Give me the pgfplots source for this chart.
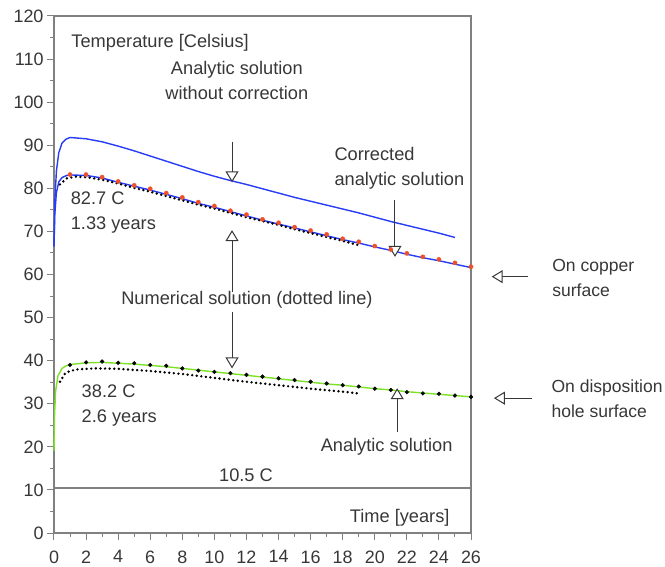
\documentclass[border=0pt]{standalone}
\usepackage{pgfplots}
\pgfplotsset{compat=1.18}
\usepackage{fontspec}
\setmainfont{Liberation Sans}
\usetikzlibrary{arrows.meta}

\definecolor{frame}{RGB}{128,128,128}
\definecolor{txt}{RGB}{55,55,55}
\definecolor{cblue}{RGB}{40,60,245}
\definecolor{cgreen}{RGB}{125,225,40}
\definecolor{cred}{RGB}{240,80,40}

\begin{document}
\begin{tikzpicture}[font=\fontsize{18.3}{25}\selectfont,
  pointer/.style={draw=txt, line width=1bp, -{Triangle[length=11bp,width=13bp,fill=white]}}]
\path[use as bounding box] (-54bp,-34bp) rectangle (611bp,533bp);
\begin{axis}[
  at={(0,0)}, anchor=south west,
  width=417bp, height=517bp,
  scale only axis,
  clip=false,
  xmin=0, xmax=26,
  ymin=0, ymax=120,
  xtick={0,2,...,26},
  ytick={0,10,...,120},
  minor x tick num=1,
  minor y tick num=1,
  xtick pos=bottom, ytick pos=left,
  tick align=outside,
  major tick length=7bp,
  minor tick length=3.5bp,
  axis line style={frame, line width=1.5bp},
  tick style={frame, line width=1bp},
  ticklabel style={text=txt, font=\fontsize{18}{22}\selectfont},
  xticklabel style={yshift=-7bp},
  /pgf/number format/assume math mode=true,
  /pgf/number format/1000 sep={},
]

% ambient temperature line
\addplot[frame, line width=1.5bp] coordinates {(0,10.5) (26,10.5)};

% analytic solution without correction (copper surface)
\addplot[cblue, line width=1.4bp] coordinates {
  (0,66.5) (0.05,77) (0.15,84) (0.3,88.3) (0.5,90.5) (0.75,91.4) (1,91.8)
  (2,91.5) (3,90.8) (4,89.8) (5,88.7) (6,87.5) (7,86.3) (8,85.1) (9,83.9)
  (10,82.8) (11,81.8) (12,80.9) (13,79.9) (14,78.9) (15,77.9) (16,77.0)
  (17,76.1) (18,75.2) (19,74.3) (20,73.3) (21,72.3) (22,71.4) (23,70.5)
  (24,69.6) (25,68.6)
};

% corrected analytic solution (copper surface)
\addplot[cblue, line width=1.4bp] coordinates {
  (0,66.5) (0.05,74) (0.15,79) (0.3,81.5) (0.5,82.5) (0.8,83.0) (1,83.1)
  (2,83.0) (3,82.4) (4,81.4) (5,80.5) (6,79.6) (7,78.6) (8,77.6) (9,76.5)
  (10,75.6) (11,74.6) (12,73.6) (13,72.6) (14,71.7) (15,70.8) (16,69.9)
  (17,69.0) (18,68.1) (19,67.3) (20,66.4) (21,65.6) (22,64.7) (23,63.9)
  (24,63.2) (25,62.4) (26,61.6)
};
\addplot[only marks, mark=*, mark size=2.1bp, cred, mark options={draw=none}] coordinates {
  (1,83.2) (2,83.2) (3,82.6) (4,81.6) (5,80.7) (6,79.9) (7,78.9) (8,77.9)
  (9,76.8) (10,75.9) (11,74.8) (12,73.9) (13,72.8) (14,72.0) (15,71.0)
  (16,70.2) (17,69.3) (18,68.3) (19,67.6) (20,66.6) (21,65.8) (22,64.9)
  (23,64.1) (24,63.5) (25,62.7) (26,61.8)
};

% numerical solution, copper surface (dotted line)
\addplot[black, line width=2.7bp, line cap=round, dash pattern=on 0pt off 4.6bp] coordinates {
  (0.37,80.9) (0.8,82.3) (1.33,82.7) (2,82.6) (3,82.0) (4,81.1) (5,80.1)
  (6,79.2) (7,78.2) (8,77.2) (9,76.2) (10,75.3) (11,74.3) (12,73.3)
  (13,72.4) (14,71.5) (15,70.5) (16,69.6) (17,68.7) (18,67.8) (19,66.8)
};

% analytic solution, disposition hole surface
\addplot[cgreen, line width=1.4bp] coordinates {
  (0,19) (0.03,27) (0.1,33) (0.25,36.5) (0.5,38.2) (0.75,38.8) (1,39.1)
  (2,39.5) (3,39.6) (4,39.4) (5,39.2) (6,38.9) (7,38.6) (8,38.2) (9,37.8)
  (10,37.4) (11,37.0) (12,36.6) (13,36.2) (14,35.8) (15,35.4) (16,35.0)
  (17,34.6) (18,34.3) (19,33.9) (20,33.5) (21,33.2) (22,32.8) (23,32.5)
  (24,32.2) (25,31.9) (26,31.6)
};
\addplot[only marks, mark=*, mark size=1.9bp, black, mark options={draw=none}] coordinates {
  (1,39.0) (2,39.6) (3,39.8) (4,39.5) (5,39.4) (6,39.0) (7,38.8) (8,38.2)
  (9,37.7) (10,37.4) (11,37.1) (12,36.7) (13,36.3) (14,35.9) (15,35.5)
  (16,35.1) (17,34.7) (18,34.3) (19,34.0) (20,33.5) (21,33.2) (22,32.7)
  (23,32.4) (24,32.3) (25,31.9) (26,31.6)
};

% numerical solution, disposition hole surface (dotted line)
\addplot[black, line width=2.7bp, line cap=round, dash pattern=on 0pt off 4.6bp] coordinates {
  (0.37,35.1) (0.7,37.1) (1,37.6) (1.5,38.0) (2.6,38.2) (4,38.1) (6,37.6)
  (8,36.9) (10,36.0) (12,35.1) (14,34.3) (16,33.5) (18,32.8) (19,32.4)
};

% annotations
\begin{scope}[text=txt]
\node[anchor=west] at (axis cs:0.87,113.7) {Temperature [Celsius]};
\node[align=center] at (axis cs:11.4,105.0) {Analytic solution\\without correction};
\node[align=left, anchor=west] at (axis cs:17.27,84.6) {Corrected\\analytic solution};
\node[align=left, anchor=west] at (axis cs:0.83,74.3) {82.7 C\\1.33 years};
\node at (axis cs:12.03,54.1) {Numerical solution (dotted line)};
\node[align=left, anchor=west] at (axis cs:1.51,29.6) {38.2 C\\2.6 years};
\node at (axis cs:20.74,20.0) {Analytic solution};
\node at (axis cs:11.97,13.5) {10.5 C};
\node[anchor=east] at (axis cs:24.88,3.5) {Time [years]};
\node[align=left, anchor=west, font=\fontsize{17.6}{25}\selectfont] at (axis cs:30.85,59.2) {On copper\\surface};
\node[align=left, anchor=west, font=\fontsize{17.6}{25}\selectfont] at (axis cs:30.8,31.1) {On disposition\\hole surface};
\end{scope}

\draw[pointer] (axis cs:11.1,90.8) -- (axis cs:11.1,81.4);
\draw[pointer] (axis cs:21.26,77.3) -- (axis cs:21.26,64.1);
\draw[pointer] (axis cs:11.1,55.9) -- (axis cs:11.1,70.3);
\draw[pointer] (axis cs:11.1,51.3) -- (axis cs:11.1,38.2);
\draw[pointer] (axis cs:21.4,23.5) -- (axis cs:21.4,33.6);
\draw[pointer] (axis cs:29.55,59.5) -- (axis cs:27.29,59.5);
\draw[pointer] (axis cs:29.78,31.3) -- (axis cs:27.43,31.3);

\end{axis}
\end{tikzpicture}
\end{document}
